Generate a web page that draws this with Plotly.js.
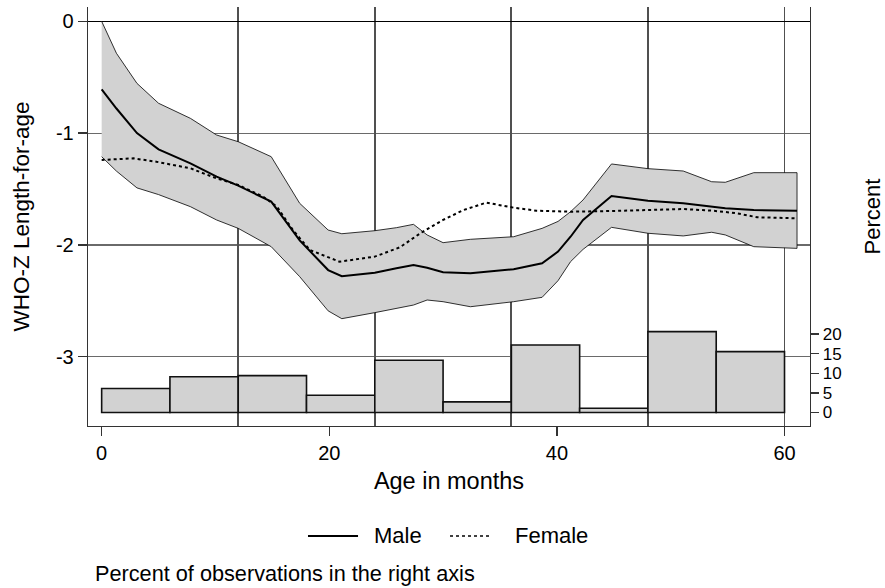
<!DOCTYPE html>
<html>
<head>
<meta charset="utf-8">
<script src="https://cdn.plot.ly/plotly-3.0.1.min.js"></script>
<style>html,body{margin:0;padding:0;background:#fff;}#chart{width:885px;height:588px;}</style>
</head>
<body>
<div id="chart"></div>
<script>
// Age grid (months) for the male estimate and its confidence band
const ageBand = [0,1.3,3.1,5.0,7.8,10.1,12,14.9,17.4,19.9,21.1,24,25.9,27.4,28.6,30,32.4,36.2,38.7,40.1,41.2,42.3,44.8,48,51.1,53.6,54.8,57.3,61.1];
const bandUpper = [0,-0.286,-0.555,-0.733,-0.868,-1.017,-1.077,-1.211,-1.628,-1.867,-1.90,-1.873,-1.846,-1.816,-1.911,-1.98,-1.95,-1.927,-1.852,-1.79,-1.703,-1.598,-1.276,-1.318,-1.339,-1.435,-1.44,-1.354,-1.354];
const maleZ = [-0.608,-0.78,-1.0,-1.145,-1.27,-1.39,-1.47,-1.613,-1.96,-2.225,-2.28,-2.249,-2.209,-2.18,-2.204,-2.245,-2.254,-2.218,-2.165,-2.06,-1.927,-1.777,-1.563,-1.605,-1.628,-1.66,-1.673,-1.688,-1.694];
const bandLower = [-1.211,-1.34,-1.49,-1.55,-1.658,-1.777,-1.852,-2.016,-2.284,-2.59,-2.66,-2.606,-2.57,-2.538,-2.493,-2.508,-2.553,-2.508,-2.469,-2.32,-2.15,-2.04,-1.843,-1.896,-1.92,-1.887,-1.911,-2.016,-2.031];
// Female estimate
const ageFemale = [0,2.8,4.8,7.8,10.1,12,14.2,15.4,16.8,18.3,20.9,24,26.2,28,30,31.8,33.8,36.2,38.2,41.2,44.7,48,51.1,53.7,55.8,57.6,61.1];
const femaleZ = [-1.24,-1.226,-1.256,-1.315,-1.405,-1.464,-1.569,-1.658,-1.867,-2.046,-2.15,-2.105,-2.022,-1.896,-1.777,-1.688,-1.622,-1.667,-1.694,-1.703,-1.697,-1.69,-1.679,-1.694,-1.717,-1.753,-1.762];
// Histogram of observations (percent), 6-month bins
const binMid = [3,9,15,21,27,33,39,45,51,57];
const binPct = [6.1,9.1,9.4,4.4,13.3,2.7,17.2,1.1,20.6,15.5];
// Tick labels
const xTicks = [0,20,40,60];
const xGrid = [12,24,36,48,60];
const yTicks = [0,-1,-2,-3];
const y2Ticks = [0,5,10,15,20];
const seriesNames = ['Male','Female'];

const FONT = 'Liberation Sans, Arial, Helvetica, sans-serif';

const bandX = ageBand.concat(ageBand.slice().reverse());
const bandY = bandUpper.concat(bandLower.slice().reverse());

const traces = [
  {x: bandX, y: bandY, type:'scatter', mode:'lines', fill:'toself',
   fillcolor:'#d2d2d2', line:{color:'#000', width:0.8}, showlegend:false, hoverinfo:'skip'},
  {x: ageBand, y: maleZ, type:'scatter', mode:'lines', name:seriesNames[0],
   line:{color:'#000', width:2}, showlegend:false},
  {x: ageFemale, y: femaleZ, type:'scatter', mode:'lines', name:seriesNames[1],
   line:{color:'#000', width:2, dash:'dot'}, showlegend:false},
  {x: binMid, y: binPct, type:'bar', width:6, xaxis:'x2', yaxis:'y2',
   marker:{color:'#d2d2d2', line:{color:'#111', width:1.6}}, showlegend:false}
];

// legend key (paper coordinates)
const legY = -0.2625;
const shapes = [
  {type:'line', xref:'paper', yref:'paper', x0:0.3047, x1:0.3740, y0:legY, y1:legY,
   line:{color:'#000', width:2}},
  {type:'line', xref:'paper', yref:'paper', x0:0.5014, x1:0.5596, y0:legY, y1:legY,
   line:{color:'#000', width:1.5, dash:'dot'}}
];

const layout = {
  width:885, height:588,
  margin:{l:88, r:75, t:7, b:162},
  paper_bgcolor:'#fff', plot_bgcolor:'#fff',
  font:{family:FONT, size:20, color:'#000'},
  showlegend:false,
  xaxis:{range:[-1.2,62.24], tickvals:xTicks, ticktext:xTicks.map(String),
         showgrid:false, zeroline:false, showline:true, linecolor:'#333', linewidth:1.3,
         ticks:'outside', ticklen:9, tickwidth:1.3, tickcolor:'#333',
         tickfont:{family:FONT, size:20, color:'#000'},
         title:{text:'Age in months', font:{family:FONT, size:23.5, color:'#000'}, standoff:9},
         anchor:'y'},
  xaxis2:{overlaying:'x', matches:'x', range:[-1.2,62.24], tickvals:xGrid,
          showticklabels:false, ticks:'', showline:false, zeroline:false,
          showgrid:true, gridcolor:'#505050', gridwidth:1.8, anchor:'y2'},
  yaxis:{range:[-3.62,0.128], tickvals:yTicks, ticktext:yTicks.map(String),
         showgrid:true, gridcolor:'#6a6a6a', gridwidth:1.2,
         zeroline:true, zerolinecolor:'#000', zerolinewidth:1.5,
         showline:true, linecolor:'#333', linewidth:1.3,
         ticks:'outside', ticklen:9, tickwidth:1.3, tickcolor:'#333',
         tickfont:{family:FONT, size:20, color:'#000'},
         title:{text:'WHO-Z Length-for-age', font:{family:FONT, size:22.5, color:'#000'}, standoff:20}},
  yaxis2:{overlaying:'y', side:'right', anchor:'x2', range:[-3.44,103.3],
          tickvals:y2Ticks, ticktext:y2Ticks.map(String),
          showgrid:false, zeroline:false, showline:true, linecolor:'#333', linewidth:1.3,
          ticks:'outside', ticklen:8, tickwidth:1.3, tickcolor:'#333',
          tickfont:{family:FONT, size:17, color:'#000'},
          title:{text:'Percent', font:{family:FONT, size:22, color:'#000'}, standoff:30}},
  shapes: shapes,
  annotations:[
    {text:seriesNames[0], xref:'paper', yref:'paper', x:0.3934, xanchor:'left', y:legY, yanchor:'middle',
     showarrow:false, font:{family:FONT, size:22, color:'#000'}},
    {text:seriesNames[1], xref:'paper', yref:'paper', x:0.5886, xanchor:'left', y:legY, yanchor:'middle',
     showarrow:false, font:{family:FONT, size:22, color:'#000'}},
    {text:'Percent of observations in the right axis', xref:'paper', yref:'paper',
     x:0.0069, xanchor:'left', y:-0.353, yanchor:'middle', showarrow:false,
     font:{family:FONT, size:21.7, color:'#000'}}
  ]
};

Plotly.newPlot('chart', traces, layout, {displayModeBar:false, staticPlot:true});
</script>
</body>
</html>
